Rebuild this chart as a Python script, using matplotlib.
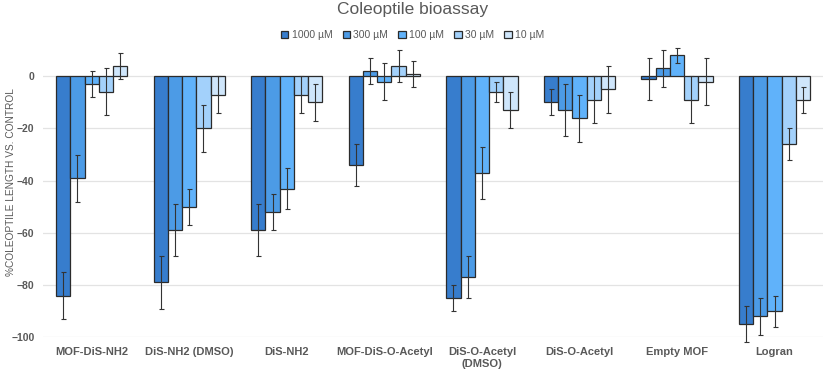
import matplotlib.pyplot as plt
import numpy as np

plt.rcParams['font.family'] = ['Liberation Sans', 'DejaVu Sans']

categories = ['MOF-DiS-NH2', 'DiS-NH2 (DMSO)', 'DiS-NH2', 'MOF-DiS-O-Acetyl',
              'DiS-O-Acetyl\n(DMSO)', 'DiS-O-Acetyl', 'Empty MOF', 'Logran']
series = ['1000 µM', '300 µM', '100 µM', '30 µM', '10 µM']

values = [
    [-84, -79, -59, -34, -85, -10, -1, -95],   # 1000
    [-39, -59, -52, 2, -77, -13, 3, -92],      # 300
    [-3, -50, -43, -2, -37, -16, 8, -90],      # 100
    [-6, -20, -7, 4, -6, -9, -9, -26],         # 30
    [4, -7, -10, 1, -13, -5, -2, -9],          # 10
]
errors = [
    [9, 10, 10, 8, 5, 5, 8, 7],
    [9, 10, 7, 5, 8, 10, 7, 7],
    [5, 7, 8, 7, 10, 9, 3, 6],
    [9, 9, 7, 6, 4, 9, 9, 6],
    [5, 7, 7, 5, 7, 9, 9, 5],
]
colors = ['#377DCD', '#4C9BE6', '#60B2FA', '#A3D1FB', '#CFE6FB']

fig = plt.figure(figsize=(8.25, 3.69), dpi=100)
ax = fig.add_axes([0.052, 0.086, 0.946, 0.778])

x = np.arange(len(categories))
w = 0.146
for i in range(len(series)):
    pos = x + (i - 2) * w
    ax.bar(pos, values[i], w, color=colors[i], edgecolor='#2b2b2b',
           linewidth=0.9, label=series[i], zorder=2)
    ax.errorbar(pos, values[i], yerr=errors[i], fmt='none', ecolor='#333333',
                elinewidth=0.8, capsize=1.8, capthick=0.8, zorder=3, clip_on=False)

ax.set_xlim(-0.5, 7.5)
ax.set_ylim(-100, 10)
ax.set_yticks([0, -20, -40, -60, -80, -100])
ax.set_xticks(x)
ax.set_xticklabels(categories, fontsize=8, fontweight='bold', color='#595959')
ax.tick_params(axis='y', labelsize=7.5, colors='#595959', length=0, pad=6)
ax.tick_params(axis='x', length=0, pad=7)
for lbl in ax.get_yticklabels():
    lbl.set_fontweight('bold')
ax.grid(axis='y', color='#E3E3E3', linewidth=0.9, zorder=0)
for s in ax.spines.values():
    s.set_visible(False)

ax.set_ylabel('%COLEOPTILE LENGTH VS. CONTROL', fontsize=7.3, color='#595959')
ax.yaxis.set_label_coords(-0.034, 0.54)
fig.suptitle('Coleoptile bioassay', y=0.995, fontsize=12.5, color='#595959')
fig.legend(loc='center', bbox_to_anchor=(0.5, 0.905), ncol=5, fontsize=7.5,
           frameon=False, handlelength=0.7, handleheight=0.7, columnspacing=1.0,
           handletextpad=0.3, labelcolor='#595959')

plt.savefig('out.png', dpi=100)
